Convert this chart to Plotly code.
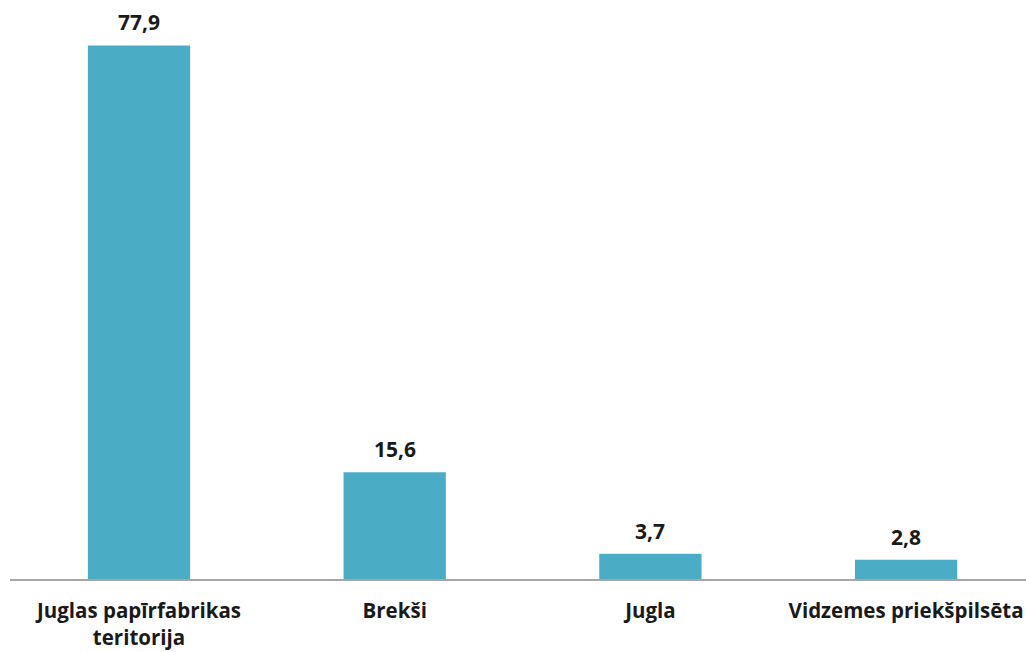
import plotly.graph_objects as go

categories = ["Juglas papīrfabrikas teritorija", "Brekši", "Jugla", "Vidzemes priekšpilsēta"]
tick_labels = ["Juglas papīrfabrikas<br>teritorija", "Brekši", "Jugla", "Vidzemes priekšpilsēta"]
values = [77.9, 15.6, 3.7, 2.8]

text_labels = [f"{v:.1f}".replace(".", ",") for v in values]

fig = go.Figure(
    go.Bar(
        x=categories,
        y=values,
        width=0.4,
        marker=dict(color="#4BACC6", line=dict(width=0)),
        hoverinfo="x+y",
    )
)

for c, v, t in zip(categories, values, text_labels):
    fig.add_annotation(
        x=c, y=v, text=t, showarrow=False,
        yanchor="bottom", yshift=7,
        font=dict(family="Open Sans", size=21, color="#1a1a1a", weight="bold"),
    )

fig.update_layout(
    width=1026,
    height=652,
    margin=dict(l=10, r=0, t=31, b=73),
    paper_bgcolor="white",
    plot_bgcolor="white",
    showlegend=False,
    font=dict(family="Open Sans", size=20.5, color="#1a1a1a"),
)
fig.update_xaxes(
    range=[-0.5046, 3.469],
    tickmode="array",
    tickvals=categories,
    ticktext=tick_labels,
    tickfont=dict(family="Open Sans", size=20.5, color="#1a1a1a", weight="bold"),
    showline=True,
    linecolor="#a6a6a6",
    linewidth=1.5,
    ticks="outside",
    ticklen=13,
    tickcolor="rgba(0,0,0,0)",
    showgrid=False,
    zeroline=False,
    automargin=False,
)
fig.update_yaxes(
    range=[0, 80],
    visible=False,
    showgrid=False,
    zeroline=False,
)

fig.write_html(
    "out.html",
    config={"displayModeBar": False},
    post_script="document.body.style.margin='0';document.body.style.overflow='hidden';",
)
